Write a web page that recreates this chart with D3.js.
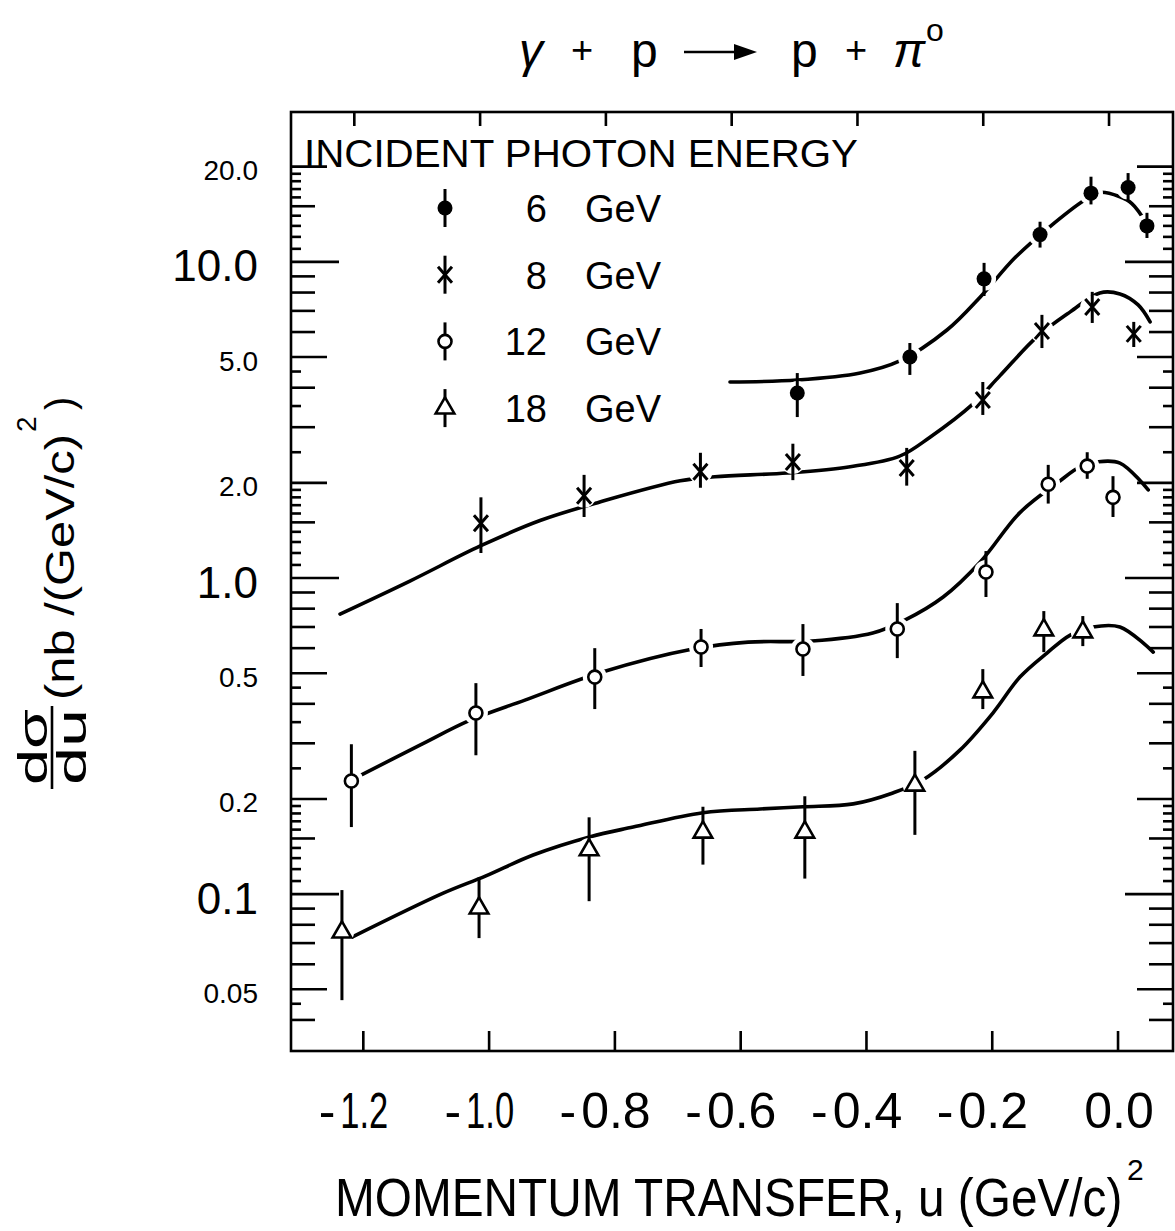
<!DOCTYPE html>
<html>
<head>
<meta charset="utf-8">
<script src="https://cdn.jsdelivr.net/npm/d3@7"></script>
<style>
  body { margin: 0; background: #fff; }
  svg { display: block; }
  text { font-family: "Liberation Sans", Arial, sans-serif; fill: #000; }
</style>
</head>
<body>
<svg id="chart" width="1175" height="1231"></svg>
<script>
// ---- data ----
// points: [u, dσ/du, err low, err high]
const energies = ['6', '8', '12', '18'];
const markers  = ['dot', 'star', 'ring', 'tri'];

const pts6 = [
  [-0.510, 3.85, 3.23, 4.45], [-0.331, 5.00, 4.39, 5.54], [-0.213, 8.84, 7.80, 9.93],
  [-0.124, 12.2, 11.1, 13.4], [-0.043, 16.5, 15.2, 18.6], [0.016, 17.2, 15.7, 19.1],
  [0.046, 13.0, 11.9, 14.3]
];
const pts8 = [
  [-1.013, 1.49, 1.20, 1.80], [-0.849, 1.82, 1.56, 2.12], [-0.664, 2.17, 1.93, 2.49],
  [-0.517, 2.33, 2.04, 2.66], [-0.336, 2.23, 1.96, 2.58], [-0.215, 3.66, 3.28, 4.17],
  [-0.121, 6.05, 5.34, 6.80], [-0.041, 7.20, 6.41, 8.04], [0.025, 5.92, 5.38, 6.46]
];
const pts12 = [
  [-1.219, 0.228, 0.163, 0.298], [-1.021, 0.374, 0.275, 0.465], [-0.832, 0.486, 0.385, 0.600],
  [-0.663, 0.605, 0.523, 0.690], [-0.501, 0.596, 0.490, 0.715], [-0.351, 0.690, 0.558, 0.833],
  [-0.210, 1.045, 0.871, 1.217], [-0.111, 1.98, 1.72, 2.28], [-0.049, 2.26, 2.06, 2.50],
  [-0.008, 1.80, 1.56, 2.10]
];
const pts18 = [
  [-1.234, 0.0758, 0.0462, 0.103], [-1.016, 0.0903, 0.0726, 0.113], [-0.841, 0.138, 0.095, 0.175],
  [-0.660, 0.157, 0.124, 0.189], [-0.498, 0.157, 0.112, 0.204], [-0.323, 0.221, 0.154, 0.284],
  [-0.215, 0.436, 0.385, 0.515], [-0.118, 0.685, 0.583, 0.786], [-0.056, 0.675, 0.609, 0.758]
];

// hand-drawn curves: [u, dσ/du]
const fit6 = [
  [-0.617, 4.17], [-0.510, 4.23], [-0.410, 4.45], [-0.347, 4.86], [-0.272, 6.09], [-0.219, 7.75],
  [-0.164, 10.3], [-0.111, 12.8], [-0.053, 15.7], [-0.029, 16.6], [0.002, 16.1], [0.022, 15.3],
  [0.046, 13.2]
];
const fit8 = [
  [-1.237, 0.769], [-1.126, 0.978], [-1.014, 1.263], [-0.919, 1.52], [-0.824, 1.74], [-0.696, 2.03],
  [-0.641, 2.09], [-0.526, 2.15], [-0.426, 2.25], [-0.347, 2.43], [-0.299, 2.79], [-0.231, 3.55],
  [-0.188, 4.36], [-0.129, 5.79], [-0.076, 6.95], [-0.029, 7.98], [0.003, 7.92], [0.032, 7.31],
  [0.051, 6.46]
];
const fit12 = [
  [-1.210, 0.2345], [-1.110, 0.296], [-1.030, 0.355], [-0.943, 0.411], [-0.820, 0.504],
  [-0.676, 0.596], [-0.588, 0.627], [-0.487, 0.632], [-0.390, 0.670], [-0.339, 0.736],
  [-0.278, 0.871], [-0.219, 1.124], [-0.156, 1.61], [-0.095, 2.01], [-0.060, 2.25],
  [-0.033, 2.33], [0.003, 2.31], [0.048, 1.90]
];
const fit18 = [
  [-1.218, 0.0731], [-1.073, 0.1007], [-1.006, 0.114], [-0.930, 0.133], [-0.839, 0.152],
  [-0.771, 0.163], [-0.660, 0.181], [-0.569, 0.186], [-0.501, 0.189], [-0.421, 0.193],
  [-0.358, 0.209], [-0.310, 0.230], [-0.251, 0.286], [-0.199, 0.374], [-0.156, 0.486],
  [-0.113, 0.579], [-0.076, 0.660], [-0.040, 0.700], [0.003, 0.700], [0.056, 0.583]
];

// axis ticks / labels
const xTicks = [-1.2, -1.0, -0.8, -0.6, -0.4, -0.2, 0.0];
const xTickLabels = ['-1.2', '-1.0', '-0.8', '-0.6', '-0.4', '-0.2', '0.0'];
const yTickValues = [20, 10, 5, 2, 1, 0.5, 0.2, 0.1, 0.05];
const yTickLabels = ['20.0', '10.0', '5.0', '2.0', '1.0', '0.5', '0.2', '0.1', '0.05'];

const series = [pts6, pts8, pts12, pts18];
const fits = [fit6, fit8, fit12, fit18];

// ---- layout ----
const svg = d3.select('#chart');
const L = 291, R = 1173, T = 112, B = 1051;

const x = d3.scaleLinear().domain([-1.315, 0.0874]).range([L, R]);
const y = d3.scaleLog().domain([0.0319, 29.8]).range([B, T]);

svg.append('rect').attr('width', 1175).attr('height', 1231).attr('fill', '#fff');

// minor ticks of the log axis (1-2 by 0.1, 2-5 by 0.5, 5-10 by 1)
const minor = [];
[0.01, 0.1, 1, 10].forEach(d => {
  for (let k = 10; k < 20; k++) minor.push({ v: d * k / 10, len: k === 10 ? 48 : (k === 15 ? 24 : 10) });
  for (let k = 4; k < 10; k++) minor.push({ v: d * k / 2, len: k === 4 ? 36 : (k % 2 === 0 ? 24 : 10) });
  for (let k = 5; k < 10; k++) minor.push({ v: d * k, len: k === 5 ? 36 : 24 });
});
minor.push({ v: 20, len: 36 });
const yTicks = minor.filter(t => t.v >= 0.0399 && t.v <= 20.01);

const axes = svg.append('g').attr('stroke', '#000').attr('stroke-width', 2.6).attr('fill', 'none');
axes.append('rect').attr('x', L).attr('y', T).attr('width', R - L).attr('height', B - T);

axes.selectAll('line.yl').data(yTicks).join('line')
  .attr('x1', L).attr('x2', d => L + d.len)
  .attr('y1', d => y(d.v)).attr('y2', d => y(d.v));
axes.selectAll('line.yr').data(yTicks).join('line')
  .attr('x1', R).attr('x2', d => R - d.len)
  .attr('y1', d => y(d.v)).attr('y2', d => y(d.v));

axes.selectAll('line.xb').data(xTicks).join('line')
  .attr('x1', d => x(d)).attr('x2', d => x(d))
  .attr('y1', B).attr('y2', B - 20);
axes.selectAll('line.xt').data(xTicks).join('line')
  .attr('x1', d => x(d) - 9).attr('x2', d => x(d) - 9)
  .attr('y1', T).attr('y2', T + 14);

// y tick labels: decades drawn larger
svg.append('g').selectAll('text').data(yTickValues).join('text')
  .attr('x', 258)
  .attr('y', d => y(d) + 4)
  .attr('text-anchor', 'end')
  .attr('dominant-baseline', 'central')
  .attr('font-size', d => Number.isInteger(Math.log10(d)) ? 44 : 28)
  .text((d, i) => yTickLabels[i]);

// x tick labels: number centred on the tick, minus sign hung off to the left
const xl = svg.append('g');
xTicks.forEach((t, i) => {
  const s = xTickLabels[i];
  const num = s.replace('-', '');
  const tx = xl.append('text')
    .attr('x', x(t) + 1).attr('y', 1128)
    .attr('text-anchor', 'middle')
    .attr('font-size', 50)
    .text(num);
  // the lettered "1" is a bare stroke, much narrower than a font's
  if (num.startsWith('1')) tx.attr('textLength', 48).attr('lengthAdjust', 'spacingAndGlyphs');
  if (s.startsWith('-')) {
    const w = num.startsWith('1') ? 48 : tx.node().getComputedTextLength();
    xl.append('text')
      .attr('x', x(t) + 1 - w / 2 - 5).attr('y', 1128)
      .attr('text-anchor', 'end')
      .attr('font-size', 50)
      .text('-');
  }
});

// ---- curves ----
const line = d3.line()
  .x(d => x(d[0]))
  .y(d => y(d[1]))
  .curve(d3.curveCatmullRom.alpha(0.5));

svg.append('g').selectAll('path').data(fits).join('path')
  .attr('d', line)
  .attr('fill', 'none')
  .attr('stroke', '#000')
  .attr('stroke-width', 3.6)
  .attr('stroke-linecap', 'round');

// ---- markers ----
function drawMarker(g, kind, cx, cy) {
  if (kind === 'dot') {
    g.append('circle').attr('cx', cx).attr('cy', cy).attr('r', 7.5).attr('fill', '#000');
  } else if (kind === 'ring') {
    g.append('circle').attr('cx', cx).attr('cy', cy).attr('r', 6.5)
      .attr('fill', '#fff').attr('stroke', '#000').attr('stroke-width', 2.6);
  } else if (kind === 'tri') {
    g.append('path').attr('transform', `translate(${cx},${cy})`)
      .attr('d', d3.symbol(d3.symbolTriangle, 150)())
      .attr('fill', '#fff').attr('stroke', '#000').attr('stroke-width', 2.6);
  } else {
    g.append('path')
      .attr('d', `M${cx - 7},${cy - 8}L${cx + 7},${cy + 8}M${cx + 7},${cy - 8}L${cx - 7},${cy + 8}`)
      .attr('stroke', '#000').attr('stroke-width', 3);
  }
}

const mg = svg.append('g');
series.forEach(pts => {
  pts.forEach(p => {
    mg.append('circle').attr('cx', x(p[0])).attr('cy', y(p[1])).attr('r', 12).attr('fill', '#fff');
  });
});
series.forEach((pts, si) => {
  pts.forEach(p => {
    mg.append('line')
      .attr('x1', x(p[0])).attr('x2', x(p[0]))
      .attr('y1', y(p[2])).attr('y2', y(p[3]))
      .attr('stroke', '#000').attr('stroke-width', 3);
    drawMarker(mg, markers[si], x(p[0]), y(p[1]));
  });
});

// ---- legend ----
const lg = svg.append('g');
lg.append('text')
  .attr('x', 304).attr('y', 167)
  .attr('font-size', 38)
  .attr('textLength', 554).attr('lengthAdjust', 'spacingAndGlyphs')
  .text('INCIDENT  PHOTON  ENERGY');

energies.forEach((e, i) => {
  const cy = 208 + i * 66.7;
  lg.append('line').attr('x1', 445).attr('x2', 445).attr('y1', cy - 19).attr('y2', cy + 19)
    .attr('stroke', '#000').attr('stroke-width', 3);
  drawMarker(lg, markers[i], 445, cy);
  lg.append('text').attr('x', 547).attr('y', cy + 14).attr('text-anchor', 'end')
    .attr('font-size', 38).text(e);
  lg.append('text').attr('x', 585).attr('y', cy + 14)
    .attr('font-size', 38).text('GeV');
});

// ---- title: γ + p → p + π° ----
const tg = svg.append('g');
tg.append('text').attr('x', 519).attr('y', 67).attr('font-size', 48).attr('font-style', 'italic').text('γ');
tg.append('text').attr('x', 582).attr('y', 63).attr('font-size', 38).attr('text-anchor', 'middle').text('+');
tg.append('text').attr('x', 631).attr('y', 67).attr('font-size', 48).text('p');
tg.append('line').attr('x1', 684).attr('x2', 740).attr('y1', 52).attr('y2', 52)
  .attr('stroke', '#000').attr('stroke-width', 2.4);
tg.append('path').attr('d', 'M734,44L757,52L734,60Z').attr('fill', '#000');
tg.append('text').attr('x', 791).attr('y', 67).attr('font-size', 48).text('p');
tg.append('text').attr('x', 856).attr('y', 63).attr('font-size', 38).attr('text-anchor', 'middle').text('+');
tg.append('text').attr('x', 893).attr('y', 67).attr('font-size', 48).attr('font-style', 'italic').text('π');
tg.append('text').attr('x', 926).attr('y', 41).attr('font-size', 32).text('o');

// ---- axis titles ----
// tall, narrow lettering: a big font squeezed horizontally
svg.append('text')
  .attr('transform', 'translate(335,1216) scale(0.885,1)')
  .attr('font-size', 54)
  .text('MOMENTUM  TRANSFER, u (GeV/c)');
svg.append('text').attr('x', 1127).attr('y', 1180).attr('font-size', 30).text('2');

const yt = svg.append('g');
yt.append('text').attr('transform', 'translate(47,747) rotate(-90)')
  .attr('text-anchor', 'middle').attr('font-size', 40)
  .attr('textLength', 76).attr('lengthAdjust', 'spacingAndGlyphs').text('dσ');
yt.append('line').attr('x1', 52).attr('x2', 52).attr('y1', 706).attr('y2', 789)
  .attr('stroke', '#000').attr('stroke-width', 2.6);
yt.append('text').attr('transform', 'translate(86,747) rotate(-90)')
  .attr('text-anchor', 'middle').attr('font-size', 40)
  .attr('textLength', 76).attr('lengthAdjust', 'spacingAndGlyphs').text('du');
yt.append('text').attr('transform', 'translate(74,700) rotate(-90)')
  .attr('font-size', 40)
  .attr('textLength', 266).attr('lengthAdjust', 'spacingAndGlyphs').text('(nb /(GeV/c)');
yt.append('text').attr('transform', 'translate(36,432) rotate(-90)')
  .attr('font-size', 28).text('2');
yt.append('text').attr('transform', 'translate(74,410) rotate(-90)')
  .attr('font-size', 40).text(')');
</script>
</body>
</html>
